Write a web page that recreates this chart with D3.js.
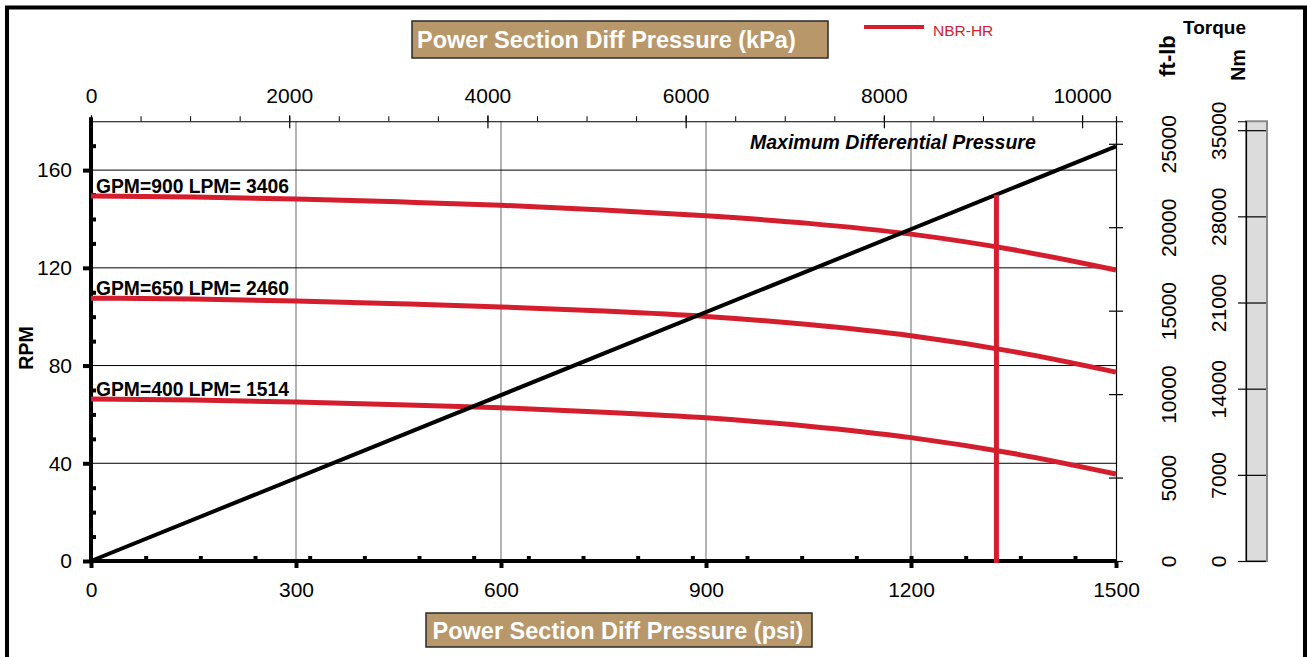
<!DOCTYPE html>
<html>
<head>
<meta charset="utf-8">
<script src="https://cdn.jsdelivr.net/npm/d3@7"></script>
<style>
  body { margin: 0; background: #fff; }
  svg { display: block; }
  text { font-family: "Liberation Sans", Arial, sans-serif; }
</style>
</head>
<body>
<svg id="chart" width="1307" height="657"></svg>
<script>
// Power section performance: output speed (RPM) vs differential pressure for three flow rates,
// plus the torque line and the maximum differential pressure marker.
const psiSamples = [0, 150, 300, 450, 600, 750, 900, 1050, 1200, 1350, 1500];
const rpmGpm900 = [149.4, 149.0, 148.2, 147.0, 145.6, 143.7, 141.3, 138.2, 133.8, 127.4, 119.1];
const rpmGpm650 = [107.6, 107.2, 106.4, 105.3, 104.0, 102.3, 100.1, 96.8, 92.2, 85.7, 77.3];
const rpmGpm400 = [66.3, 65.9, 65.1, 64.0, 62.7, 60.9, 58.6, 55.2, 50.5, 44.0, 35.6];
const flowLabels = ["GPM=900 LPM= 3406", "GPM=650 LPM= 2460", "GPM=400 LPM= 1514"];

// Torque (ft-lb) grows linearly with differential pressure
const torquePsi = [0, 1500];
const torqueFtLb = [0, 24850];
const maxDiffPsi = 1325;

const psiTicks = [0, 300, 600, 900, 1200, 1500];
const kpaTicks = [0, 2000, 4000, 6000, 8000, 10000];
const rpmTicks = [0, 40, 80, 120, 160];
const ftlbTicks = [0, 5000, 10000, 15000, 20000, 25000];
const nmTicks = [0, 7000, 14000, 21000, 28000, 35000];

const PSI_TO_KPA = 6.894757;
const FTLB_TO_NM = 1.355818;
const RED = "#d41e2e";
const FONT = '"Liberation Sans", Arial, sans-serif';

const svg = d3.select("#chart");

const L = 91, R = 1116, B = 561, T = 121.25;
const x = d3.scaleLinear([0, 1500], [L, R]);
const xKpa = d3.scaleLinear([0, 1500 * PSI_TO_KPA], [L, R]);
const y = d3.scaleLinear([0, 180], [B, T]);
const torqueMax = 26350;
const yT = d3.scaleLinear([0, torqueMax], [B, T]);
const yNm = d3.scaleLinear([0, torqueMax * FTLB_TO_NM], [B, T]);

// outer frame
svg.append("rect").attr("x", 7).attr("y", 7.5).attr("width", 1298).attr("height", 700)
  .attr("fill", "none").attr("stroke", "#000").attr("stroke-width", 4);

// grid
svg.append("g").selectAll("line").data(psiTicks.slice(1, -1)).join("line")
  .attr("x1", d => x(d)).attr("x2", d => x(d)).attr("y1", T).attr("y2", B)
  .attr("stroke", "#808080").attr("stroke-width", 1.2);
svg.append("g").selectAll("line").data(rpmTicks.slice(1)).join("line")
  .attr("x1", L).attr("x2", R).attr("y1", d => y(d)).attr("y2", d => y(d))
  .attr("stroke", "#000").attr("stroke-width", 1);

function styleText(sel, size) {
  sel.selectAll("text").attr("font-family", FONT).attr("font-size", size).attr("fill", "#000");
}

// top kPa axis
const topMinor = svg.append("g").attr("transform", `translate(0,${T})`)
  .call(d3.axisTop(xKpa).tickValues(d3.range(500, 10400, 500)).tickSize(5).tickFormat(""));
topMinor.select(".domain").attr("stroke", "#000").attr("stroke-width", 1.2);
topMinor.selectAll(".tick line").attr("stroke", "#000").attr("stroke-width", 1);
const topAxis = svg.append("g").attr("transform", `translate(0,${T})`)
  .call(d3.axisTop(xKpa).tickValues(kpaTicks).tickSize(6).tickPadding(12).tickFormat(d3.format("d")));
topAxis.select(".domain").remove();
topAxis.selectAll(".tick line").attr("y1", 7).attr("stroke", "#000").attr("stroke-width", 1.2);
styleText(topAxis, 21);

// right ft-lb axis
const ftAxis = svg.append("g").attr("transform", `translate(${R},0)`)
  .call(d3.axisRight(yT).tickValues(ftlbTicks).tickSize(7).tickFormat(d3.format("d")));
ftAxis.select(".domain").attr("stroke", "#000").attr("stroke-width", 1.2);
ftAxis.selectAll(".tick line").attr("x1", -7).attr("stroke", "#000").attr("stroke-width", 1.2);
styleText(ftAxis, 21);
ftAxis.selectAll(".tick text").attr("x", 0).attr("dy", "0.36em").attr("text-anchor", "middle")
  .attr("transform", "translate(52,0) rotate(-90)");

// Nm scale bar
svg.append("rect").attr("x", 1246).attr("y", T).attr("width", 21).attr("height", B - T)
  .attr("fill", "#dcdcdc").attr("stroke", "#8a8a8a").attr("stroke-width", 2);
const nmAxis = svg.append("g").attr("transform", "translate(1246,0)")
  .call(d3.axisLeft(yNm).tickValues(nmTicks).tickSize(8).tickFormat(d3.format("d")));
nmAxis.select(".domain").attr("stroke", "#000").attr("stroke-width", 1.2);
nmAxis.selectAll(".tick line").attr("x1", 20).attr("stroke", "#000").attr("stroke-width", 1.2);
styleText(nmAxis, 21);
nmAxis.selectAll(".tick text").attr("x", 0).attr("dy", "0.36em").attr("text-anchor", "middle")
  .attr("transform", "translate(-28,0) rotate(-90)");

// left RPM axis
const leftMinor = svg.append("g").attr("transform", `translate(${L},0)`)
  .call(d3.axisRight(y).tickValues(d3.range(10, 180, 10).filter(v => v % 40 !== 0)).tickSize(5).tickFormat(""));
leftMinor.select(".domain").remove();
leftMinor.selectAll(".tick line").attr("stroke", "#000").attr("stroke-width", 4);
const leftAxis = svg.append("g").attr("transform", `translate(${L},0)`)
  .call(d3.axisLeft(y).tickValues(rpmTicks).tickSize(8).tickPadding(11).tickFormat(d3.format("d")));
leftAxis.select(".domain").attr("d", `M0,${B + 2}V${T - 4}`).attr("stroke", "#000").attr("stroke-width", 4);
leftAxis.selectAll(".tick line").attr("stroke", "#000").attr("stroke-width", 4);
styleText(leftAxis, 21);

// bottom psi axis
const botMinor = svg.append("g").attr("transform", `translate(0,${B})`)
  .call(d3.axisTop(x).tickValues(d3.range(80, 1500, 80)).tickSize(5).tickFormat(""));
botMinor.select(".domain").remove();
botMinor.selectAll(".tick line").attr("stroke", "#000").attr("stroke-width", 4);
const botAxis = svg.append("g").attr("transform", `translate(0,${B})`)
  .call(d3.axisBottom(x).tickValues(psiTicks).tickSize(7).tickPadding(14).tickFormat(d3.format("d")));
botAxis.select(".domain").attr("d", `M${L - 2},0H${R}`).attr("stroke", "#000").attr("stroke-width", 4);
botAxis.selectAll(".tick line").attr("stroke", "#000").attr("stroke-width", 4);
styleText(botAxis, 21);

// RPM curves
const series = [rpmGpm900, rpmGpm650, rpmGpm400];
const line = d3.line().x((d, i) => x(psiSamples[i])).y(d => y(d)).curve(d3.curveMonotoneX);
svg.append("g").selectAll("path").data(series).join("path")
  .attr("d", line).attr("fill", "none").attr("stroke", RED).attr("stroke-width", 5);

// torque line
svg.append("line")
  .attr("x1", x(torquePsi[0])).attr("y1", yT(torqueFtLb[0]))
  .attr("x2", x(torquePsi[1])).attr("y2", yT(torqueFtLb[1]))
  .attr("stroke", "#000").attr("stroke-width", 4);

// maximum differential pressure marker
const torqueAt = d3.scaleLinear(torquePsi, torqueFtLb);
svg.append("line")
  .attr("x1", x(maxDiffPsi)).attr("x2", x(maxDiffPsi))
  .attr("y1", yT(0) + 2).attr("y2", yT(torqueAt(maxDiffPsi)))
  .attr("stroke", RED).attr("stroke-width", 5);

// flow labels
svg.append("g").selectAll("text").data(series).join("text")
  .attr("x", 96).attr("y", d => y(d[0]) - 3.5)
  .attr("font-size", 19.3).attr("font-weight", "bold").text((d, i) => flowLabels[i]);

svg.append("text").attr("x", 750).attr("y", 149)
  .attr("font-size", 19.5).attr("font-weight", "bold").attr("font-style", "italic")
  .text("Maximum Differential Pressure");

// axis title boxes
svg.append("rect").attr("x", 412).attr("y", 21).attr("width", 416).attr("height", 37)
  .attr("fill", "#b8976a").attr("stroke", "#2a2a2a").attr("stroke-width", 1.5);
svg.append("text").attr("x", 417).attr("y", 48).attr("font-size", 23.5).attr("font-weight", "bold")
  .attr("fill", "#fff").text("Power Section Diff Pressure (kPa)");
svg.append("rect").attr("x", 426).attr("y", 613).attr("width", 386).attr("height", 34)
  .attr("fill", "#b8976a").attr("stroke", "#2a2a2a").attr("stroke-width", 1.5);
svg.append("text").attr("x", 618).attr("y", 639).attr("text-anchor", "middle").attr("font-size", 23.5)
  .attr("font-weight", "bold").attr("fill", "#fff").text("Power Section Diff Pressure (psi)");

// legend
svg.append("line").attr("x1", 864).attr("x2", 924).attr("y1", 27).attr("y2", 27)
  .attr("stroke", RED).attr("stroke-width", 4);
svg.append("text").attr("x", 933).attr("y", 36).attr("font-size", 15.5).attr("fill", RED).text("NBR-HR");

// axis titles
svg.append("text").attr("x", 1183).attr("y", 34).attr("font-size", 19).attr("font-weight", "bold").text("Torque");
svg.append("text").attr("transform", "translate(1167,56) rotate(-90)").attr("dy", "0.36em")
  .attr("text-anchor", "middle").attr("font-size", 22).attr("font-weight", "bold").text("ft-lb");
svg.append("text").attr("transform", "translate(1238,65) rotate(-90)").attr("dy", "0.36em")
  .attr("text-anchor", "middle").attr("font-size", 19.5).attr("font-weight", "bold").text("Nm");
svg.append("text").attr("transform", "translate(26,348) rotate(-90)").attr("dy", "0.36em")
  .attr("text-anchor", "middle").attr("font-size", 19.5).attr("font-weight", "bold").text("RPM");
</script>
</body>
</html>
